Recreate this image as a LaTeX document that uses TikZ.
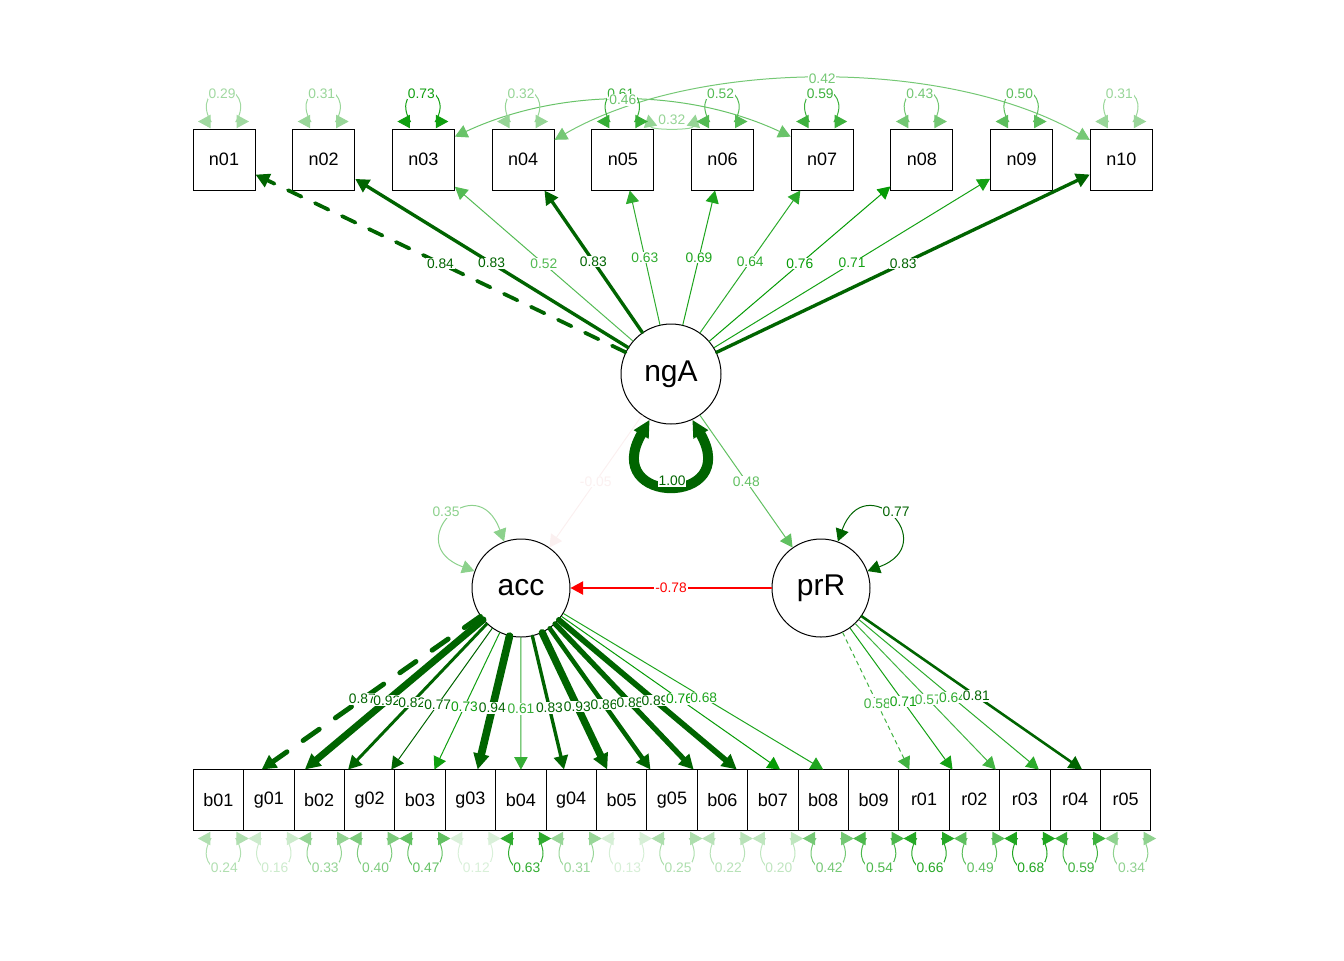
\documentclass[tikz,border=0pt]{standalone}
\usepackage{fontspec}
\setmainfont{Liberation Sans}
\usepackage{tikz}
\usetikzlibrary{arrows.meta}

\definecolor{dg}{HTML}{006400}
\definecolor{g9}{HTML}{009900}
\definecolor{nr}{HTML}{BF0000}

% colour, width and dash length of an edge from its value
\newcommand\edgecol[1]{%
  \pgfmathsetmacro\av{abs(#1)}%
  \pgfmathtruncatemacro\isdark{\av>=0.765}%
  \pgfmathtruncatemacro\isneg{#1<0}%
  \ifnum\isdark=1
    \ifnum\isneg=1 \colorlet{ec}{red}\else\colorlet{ec}{dg}\fi
    \pgfmathsetmacro\lw{0.5+(\av-0.77)*19.6}%
  \else
    \pgfmathtruncatemacro\pc{100*\av/0.77}%
    \ifnum\isneg=1 \colorlet{ec}{nr!\pc!white}\else\colorlet{ec}{g9!\pc!white}\fi
    \def\lw{0.5}%
  \fi
  \pgfmathsetmacro\dl{4*\lw}}

% end point of a loading on the top line of the lower row
\newcommand\rowend[2]{%
  \edef\tmp{\noexpand\coordinate (e#2) at (intersection of #1--#2\space and rowL--rowR);}\tmp}

\tikzset{
  mani/.style={draw, fill=white, line width=0.5pt, inner sep=0pt,
    minimum width=31pt, minimum height=30.5pt, font=\fontsize{9}{10}\selectfont},
  manb/.style={mani, minimum width=25.2pt, minimum height=30.25pt},
  lat/.style={draw, circle, fill=white, line width=0.5pt, inner sep=0pt,
    minimum size=49pt, font=\fontsize{15}{17}\selectfont},
  ed/.style={draw=ec, line width=\lw pt, line cap=round, ->},
  pat0/.style={},
  pat1/.style={dash pattern=on \dl pt off \dl pt},
  lbl/.style={fill=white, text=ec, inner sep=0.4pt, font=\fontsize{6.9}{7.5}\selectfont},
  >={Triangle[length=6pt 0.5, width=6.5pt 0.3]}
}

\def\topL{n01/0.84/1,n02/0.83/0,n03/0.52/0,n04/0.83/0,n05/0.63/0,n06/0.69/0,n07/0.64/0,n08/0.76/0,n09/0.71/0,n10/0.83/0}
\def\accL{b01/0.87/1,g01/0.92/0,b02/0.82/0,g02/0.77/0,b03/0.73/0,g03/0.94/0,b04/0.61/0,g04/0.83/0,b05/0.93/0,g05/0.86/0,b06/0.88/0,b07/0.89/0,b08/0.76/0,b09/0.68/0}
\def\prrL{r01/0.58/1,r02/0.71/0,r03/0.57/0,r04/0.64/0,r05/0.81/0}

\begin{document}
\begin{tikzpicture}[x=0.5pt, y=0.5pt]
\useasboundingbox (0,-960) rectangle (1344,0);

% observed variables
\foreach \n [count=\i from 0] in {n01,n02,n03,n04,n05,n06,n07,n08,n09,n10}
  \node[mani] (\n) at ({224+99.7*\i},-159.5) {\n};
\foreach \n [count=\i from 0] in {b01,g01,b02,g02,b03,g03,b04,g04,b05,g05,b06,b07,b08,b09,r01,r02,r03,r04,r05}
  \node[manb] (\n) at ({218.4+50.4*\i},-799.75) {\n};

% latent variables
\node[lat, minimum size=50pt] (ngA) at (671,-374) {ngA};
\node[lat] (acc) at (521,-588) {acc};
\node[lat] (prR) at (821,-588) {prR};
\coordinate (rowL) at (0,-769.5);
\coordinate (rowR) at (1344,-769.5);

% loadings
\foreach \tg/\val/\ds in \topL {\edgecol{\val}
  \draw[ed, pat\ds] (ngA) -- (\tg) coordinate[midway] (m\tg);}
\foreach \tg/\val/\ds in \accL {\edgecol{\val}
  \rowend{acc}{\tg}
  \draw[ed, pat\ds] (acc) -- (e\tg) coordinate[pos=0.54] (m\tg);}
\foreach \tg/\val/\ds in \prrL {\edgecol{\val}
  \rowend{prR}{\tg}
  \draw[ed, pat\ds] (prR) -- (e\tg) coordinate[pos=0.52] (m\tg);}

% regressions
\edgecol{-0.05}\draw[ed] (ngA) -- (acc) coordinate[midway] (mA);
\edgecol{0.48}\draw[ed] (ngA) -- (prR) coordinate[midway] (mP);
\edgecol{-0.78}\draw[ed] (prR) -- (acc) coordinate[midway] (mR);

% latent variances
\edgecol{1.00}\draw[ed, <->] (ngA.-115) to[out=-120, in=-60, distance=50pt] (ngA.-65);
\edgecol{0.35}\draw[ed, <->] (acc.160) to[out=160, in=110, distance=40pt] (acc.110);
\edgecol{0.77}\draw[ed, <->] (prR.70) to[out=70, in=20, distance=40pt] (prR.20);

% covariances
\edgecol{0.46}\draw[ed, <->] (n03.36) to[out=25, in=155, distance=58pt] coordinate[midway] (c37) (n07.144);
\edgecol{0.42}\draw[ed, <->] (n04.32) to[out=30, in=150, distance=82pt] coordinate[midway] (c410) (n10.148);
\edgecol{0.32}\draw[ed, <->] ([shift={(-6,14)}]n05.north east) to[out=-80, in=-100, distance=8pt] coordinate[midway] (c56) ([shift={(4.5,14)}]n06.north west);

% residual variances
\foreach \n/\val in {n01/0.29,n02/0.31,n03/0.73,n04/0.32,n05/0.61,n06/0.52,n07/0.59,n08/0.43,n09/0.50,n10/0.31} {\edgecol{\val}
  \begin{scope}[shift={(\n.north)}]
    \draw[ed, <->] (-26,7) -- (-13,7) .. controls (-24,25) and (-14,39) .. (-0.5,39)
      .. controls (13,39) and (23,25) .. (12,7) -- (25,7);
    \node[lbl] at (-2,35) {\val};
  \end{scope}}
\foreach \n/\val in {b01/0.24,g01/0.16,b02/0.33,g02/0.40,b03/0.47,g03/0.12,b04/0.63,g04/0.31,b05/0.13,g05/0.25,b06/0.22,b07/0.20,b08/0.42,b09/0.54,r01/0.66,r02/0.49,r03/0.68,r04/0.59,r05/0.34} {\edgecol{\val}
  \begin{scope}[shift={(\n.south)}]
    \draw[ed, <->] (-20.5,-8) -- (-7.5,-8) .. controls (-18.5,-26) and (-8.5,-40) .. (5,-40)
      .. controls (18.5,-40) and (28.5,-26) .. (17.5,-8) -- (30.5,-8);
    \node[lbl] at (6,-37) {\val};
  \end{scope}}

% edge labels
\foreach \tg/\val/\ds in \topL {\edgecol{\val}\node[lbl] at (m\tg) {\val};}
\foreach \tg/\val/\ds in \accL {\edgecol{\val}\node[lbl] at (m\tg) {\val};}
\foreach \tg/\val/\ds in \prrL {\edgecol{\val}\node[lbl] at (m\tg) {\val};}
\edgecol{-0.05}\node[lbl] at (mA) {-0.05};
\edgecol{0.48}\node[lbl] at (mP) {0.48};
\edgecol{-0.78}\node[lbl] at (mR) {-0.78};
\edgecol{1.00}\node[lbl] at (672,-481) {1.00};
\edgecol{0.35}\node[lbl] at (446,-512) {0.35};
\edgecol{0.77}\node[lbl] at (896,-512) {0.77};
\edgecol{0.46}\node[lbl] at (c37) {0.46};
\edgecol{0.42}\node[lbl] at (c410) {0.42};
\edgecol{0.32}\node[lbl, yshift=3.5pt] at (c56) {0.32};
\end{tikzpicture}
\end{document}
